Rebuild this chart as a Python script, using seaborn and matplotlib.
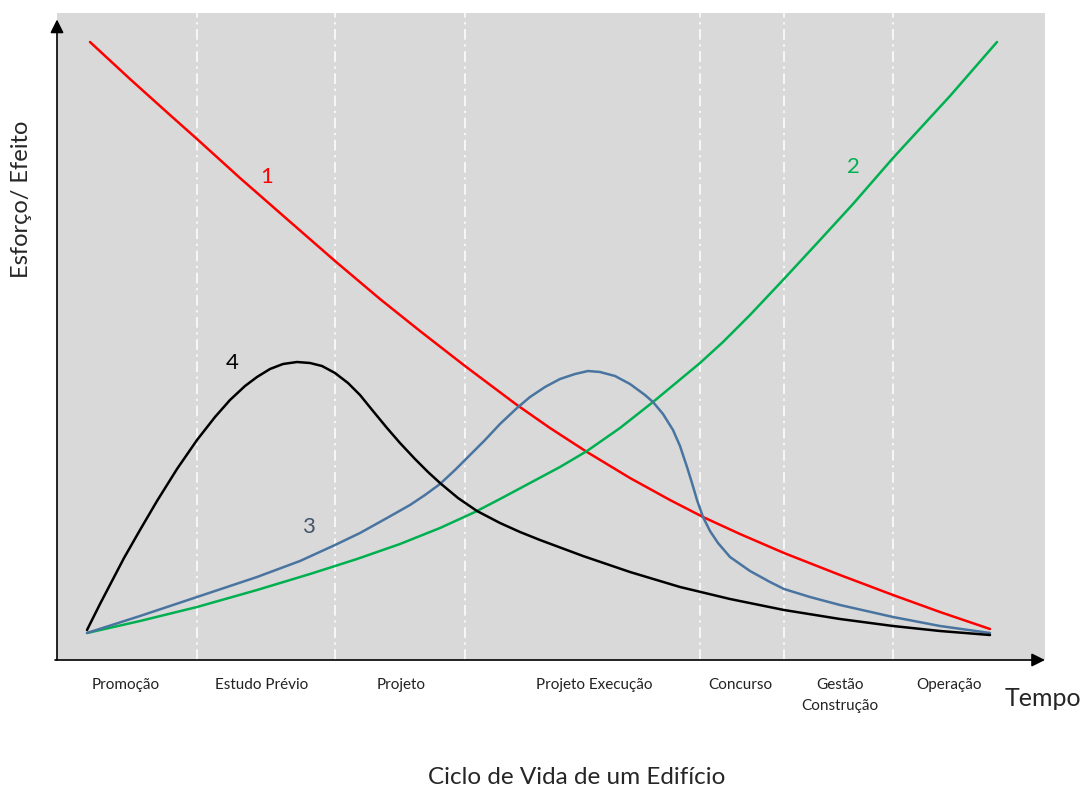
import matplotlib
matplotlib.use("Agg")
import matplotlib.pyplot as plt
import pandas as pd
import seaborn as sns

# curves: time (x) vs effort/effect (y), arbitrary units
red_x = [33, 73, 113, 140, 183, 223, 278, 323, 363, 408, 460, 493, 530, 573, 613, 646, 683,
         727, 783, 836, 883, 933]
red_y = [618, 581, 545, 521, 482, 447, 399, 361, 329, 294, 255, 232, 208, 182, 160, 143, 126,
         107, 85, 65, 48, 31]

green_x = [30, 83, 140, 200, 253, 300, 343, 383, 418, 443, 473, 503, 530, 563, 596, 643, 666,
           693, 726, 763, 796, 836, 893, 940]
green_y = [27, 39, 53, 70, 86, 101, 116, 132, 148, 161, 177, 193, 209, 232, 258, 297, 318,
           345, 380, 420, 456, 502, 564, 618]

blue_x = [30, 83, 140, 200, 243, 278, 303, 330, 353, 368, 383, 398, 413, 428, 443, 460, 473,
          488, 503, 518, 531, 543, 558, 573, 588, 596, 606, 616, 623, 630, 635, 640, 646, 653,
          661, 673, 693, 713, 727, 753, 783, 836, 883, 933]
blue_y = [27, 44, 63, 83, 99, 115, 127, 142, 155, 165, 176, 190, 205, 220, 236, 252, 263,
          273, 281, 286, 289, 288, 284, 276, 265, 258, 246, 230, 214, 193, 177, 160, 143, 129,
          117, 103, 89, 78, 71, 63, 55, 43, 34, 27]

black_x = [30, 43, 55, 67, 83, 100, 120, 140, 158, 173, 188, 200, 213, 226, 240, 253, 265, 278,
           291, 303, 316, 330, 343, 358, 371, 383, 401, 420, 443, 463, 483, 526, 573, 623, 673,
           727, 783, 836, 883, 933]
black_y = [30, 56, 79, 102, 130, 159, 191, 220, 243, 260, 274, 283, 291, 296, 298, 297, 294,
           287, 277, 265, 249, 232, 217, 201, 188, 177, 162, 149, 137, 128, 120, 104, 88, 73, 61,
           50, 41, 34, 29, 25]

phase_bounds = [140, 278, 408, 643, 727, 836]
phase_pos = [69, 205, 344, 537, 683, 783, 892]
phase_labels = ["Promoção", "Estudo Prévio", "Projeto", "Projeto Execução",
                "Concurso", "Gestão\nConstrução", "Operação"]

curve_names = ["1", "2", "3", "4"]
curve_label_x = [210, 796, 251, 175]
curve_label_y = [483, 493, 133, 297]

colors = {"1": "#ff0000", "2": "#00b050", "3": "#4a74a0", "4": "#000000"}
label_colors = {"1": "#ff0000", "2": "#00b050", "3": "#44546a", "4": "#000000"}

frames = []
for name, xs, ys in [("1", red_x, red_y), ("2", green_x, green_y),
                     ("3", blue_x, blue_y), ("4", black_x, black_y)]:
    frames.append(pd.DataFrame({"tempo": xs, "esforco": ys, "curva": name}))
df = pd.concat(frames, ignore_index=True)

sns.set_style("white", {"axes.facecolor": "#d9d9d9"})
plt.rcParams["font.family"] = ["Lato", "DejaVu Sans"]

W, H = 1084, 787
fig = plt.figure(figsize=(W / 100, H / 100), dpi=100)
ax = fig.add_axes([57 / W, (H - 660) / H, 988 / W, 647 / H])

for xb in phase_bounds:
    ax.axvline(xb, color="white", lw=1.1, ls=(0, (7, 3, 1.5, 3)), zorder=1)

sns.lineplot(data=df, x="tempo", y="esforco", hue="curva", palette=colors,
             estimator=None, sort=False, lw=1.8, legend=False, ax=ax, zorder=3)
for line in ax.get_lines():
    line.set_solid_joinstyle("round")
    line.set_solid_capstyle("round")

for name, lx, ly in zip(curve_names, curve_label_x, curve_label_y):
    ax.text(lx, ly, name, color=label_colors[name], fontsize=16, ha="center", va="center")

ax.set_xlim(0, 988)
ax.set_ylim(0, 647)
ax.set_xticks(phase_pos, phase_labels, fontsize=11, color="#222222", linespacing=1.6)
ax.tick_params(axis="x", length=0, pad=13)
ax.set_yticks([])
ax.set_xlabel("")
ax.set_ylabel("")
for s in ax.spines.values():
    s.set_visible(False)

# axis arrows
ax.annotate("", xy=(0, 0.99), xytext=(0, 0), xycoords="axes fraction",
            arrowprops=dict(arrowstyle="-|>", color="black", lw=1.2, mutation_scale=20,
                            shrinkA=0, shrinkB=0), annotation_clip=False)
ax.annotate("", xy=(1.0, 0), xytext=(-0.002, 0), xycoords="axes fraction",
            arrowprops=dict(arrowstyle="-|>", color="black", lw=1.2, mutation_scale=20,
                            shrinkA=0, shrinkB=0), annotation_clip=False)

fig.text(22 / W, 1 - 199 / H, "Esforço/ Efeito", rotation=90, fontsize=17,
         ha="center", va="center")
fig.text(1043 / W, 1 - 698 / H, "Tempo", fontsize=18, ha="center", va="center")
fig.text(577 / W, 1 - 777 / H, "Ciclo de Vida de um Edifício", fontsize=17.5,
         ha="center", va="center")

fig.savefig("out.png", dpi=100)
